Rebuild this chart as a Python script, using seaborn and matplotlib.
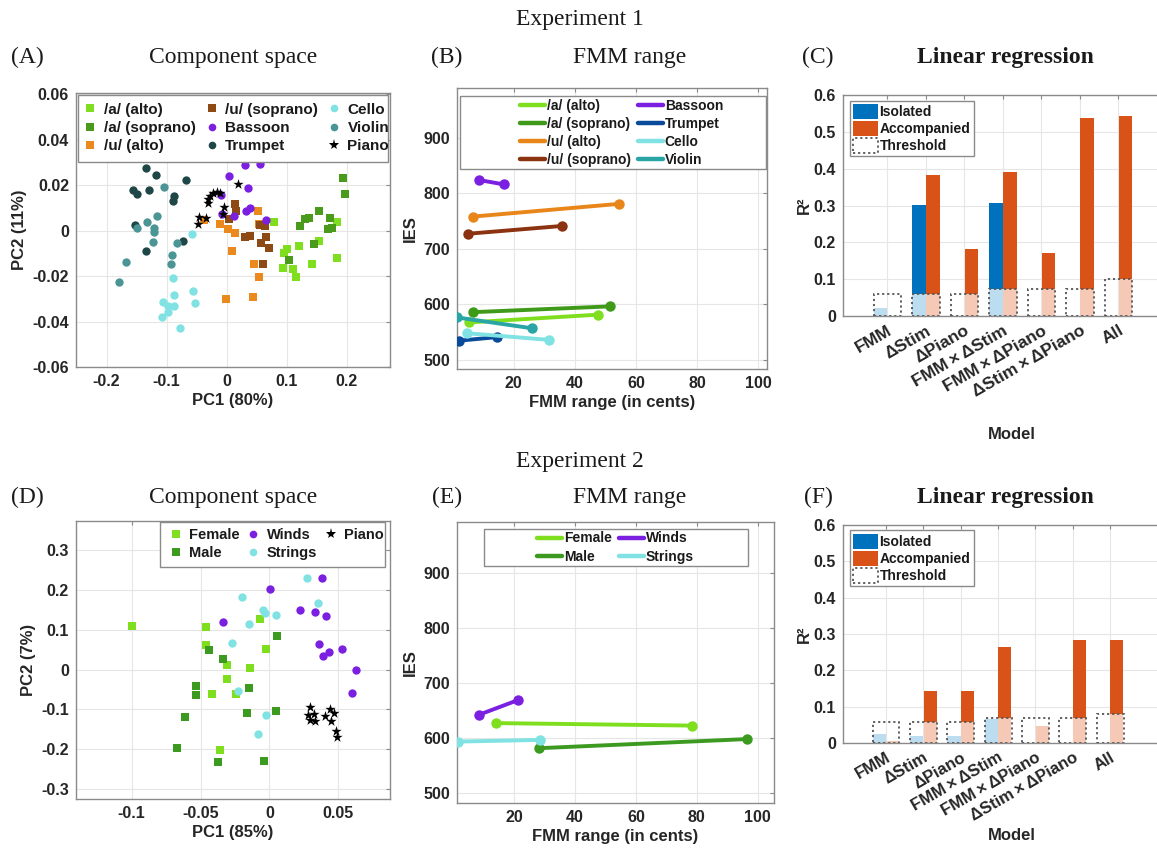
import numpy as np
import pandas as pd
import matplotlib
matplotlib.use("Agg")
import matplotlib.pyplot as plt
from matplotlib.lines import Line2D
from matplotlib.patches import Patch, Rectangle
import seaborn as sns

# ---------------- Experiment 1: component space (PC1, PC2) ----------------
exp1_a_alto = [(0.078, 0.0037), (0.101, -0.0079), (0.096, -0.0098), (0.094, -0.0165),
               (0.110, -0.0168), (0.116, -0.0202), (0.121, -0.0067), (0.153, -0.0045),
               (0.183, 0.0038), (0.183, -0.0119), (0.142, -0.0149)]
exp1_a_soprano = [(0.194, 0.0233), (0.197, 0.0162), (0.172, 0.0056), (0.153, 0.0088),
                  (0.137, 0.0057), (0.131, 0.0053), (0.122, 0.0018), (0.146, -0.0059),
                  (0.104, -0.0129), (0.169, 0.0007), (0.176, 0.0012)]
exp1_u_alto = [(0.052, 0.0088), (-0.011, 0.0029), (0.003, 0.0007), (0.014, -0.0010),
               (0.009, -0.0088), (0.053, 0.0031), (0.046, -0.0148), (0.054, -0.0206),
               (-0.001, -0.0299), (0.044, -0.0291), (-0.038, 0.0047)]
exp1_u_soprano = [(0.014, 0.0116), (0.015, 0.0085), (0.004, 0.0053), (0.031, -0.0029),
                  (0.039, -0.0023), (0.057, -0.0053), (0.066, -0.0029), (0.070, -0.0075),
                  (0.061, -0.0148), (0.064, 0.0019), (0.056, 0.0026)]
exp1_bassoon = [(0.031, 0.0290), (0.056, 0.0294), (0.004, 0.0241), (0.036, 0.0189),
                (-0.009, 0.0155), (0.032, 0.0088), (0.039, 0.0100), (0.012, 0.0063),
                (-0.007, 0.0072), (0.065, 0.0047)]
exp1_trumpet = [(-0.135, 0.0275), (-0.117, 0.0244), (-0.068, 0.0224), (-0.156, 0.0179),
                (-0.150, 0.0160), (-0.129, 0.0179), (-0.088, 0.0151), (-0.090, 0.0129),
                (-0.153, 0.0026), (-0.073, -0.0045), (-0.134, -0.0089)]
exp1_cello = [(-0.057, -0.0016), (-0.089, -0.0209), (-0.087, -0.0285), (-0.056, -0.0266),
              (-0.052, -0.0319), (-0.106, -0.0312), (-0.097, -0.0332), (-0.087, -0.0332),
              (-0.098, -0.0360), (-0.107, -0.0381), (-0.078, -0.0429)]
exp1_violin = [(-0.104, 0.0193), (-0.116, 0.0064), (-0.133, 0.0037), (-0.121, 0.0010),
               (-0.121, -0.0007), (-0.150, 0.0012), (-0.122, -0.0050), (-0.082, -0.0054),
               (-0.091, -0.0108), (-0.093, -0.0145), (-0.168, -0.0139), (-0.179, -0.0225)]
exp1_piano = [(0.019, 0.0205), (-0.022, 0.0167), (-0.016, 0.0171), (-0.011, 0.0164),
              (-0.028, 0.0152), (-0.031, 0.0138), (-0.031, 0.0123), (-0.046, 0.0059),
              (-0.035, 0.0054), (-0.047, 0.0029), (-0.004, 0.0102), (-0.006, 0.0073)]

exp1_groups = ["/a/ (alto)", "/a/ (soprano)", "/u/ (alto)", "/u/ (soprano)",
               "Bassoon", "Trumpet", "Cello", "Violin", "Piano"]

# ---------------- Experiment 1: FMM range vs IES (low, high) ----------------
exp1_line_groups = ["/a/ (alto)", "/a/ (soprano)", "/u/ (alto)", "/u/ (soprano)",
                    "Bassoon", "Trumpet", "Cello", "Violin"]
exp1_fmm = [(5.3, 47.5), (6.6, 51.6), (6.7, 54.6), (5.0, 35.7),
            (8.6, 16.9), (2.0, 14.5), (4.9, 31.7), (1.5, 26.0)]
exp1_ies = [(567, 581), (585.5, 596), (758, 781), (727, 741),
            (824, 816), (534, 540.5), (547.5, 535.5), (576, 556.5)]

# ---------------- Experiment 1: linear regression ----------------
models = ["FMM", "ΔStim", "ΔPiano", "FMM\u2009×\u2009ΔStim", "FMM\u2009×\u2009ΔPiano",
          "ΔStim\u2009×\u2009ΔPiano", "All"]
exp1_r2_isolated = [0.022, 0.301, 0.0, 0.307, 0.0, 0.0, 0.0]
exp1_r2_accompanied = [0.0, 0.383, 0.181, 0.391, 0.170, 0.537, 0.544]
exp1_r2_threshold = [0.061, 0.061, 0.061, 0.073, 0.073, 0.073, 0.100]

# ---------------- Experiment 2: component space ----------------
exp2_female = [(-0.100, 0.109), (-0.046, 0.106), (-0.046, 0.062), (-0.0065, 0.128),
               (-0.0024, 0.052), (-0.031, 0.012), (-0.014, 0.003), (-0.031, -0.023),
               (-0.042, -0.061), (-0.024, -0.061), (-0.036, -0.203)]
exp2_male = [(0.0053, 0.085), (-0.044, 0.049), (-0.034, 0.027), (-0.053, -0.041),
             (-0.053, -0.063), (-0.061, -0.118), (-0.067, -0.198), (-0.0145, -0.046),
             (-0.016, -0.108), (0.0048, -0.105), (-0.0375, -0.232), (-0.0036, -0.229)]
exp2_winds = [(0.038, 0.231), (0.0002, 0.203), (0.022, 0.150), (0.033, 0.145),
              (0.041, 0.135), (-0.034, 0.119), (0.036, 0.064), (0.043, 0.045),
              (0.039, 0.034), (0.0525, 0.052), (0.063, -0.001), (0.060, -0.058)]
exp2_strings = [(0.027, 0.231), (-0.020, 0.183), (0.035, 0.167), (-0.0044, 0.150),
                (-0.003, 0.143), (0.0048, 0.136), (-0.0145, 0.114), (-0.027, 0.067),
                (-0.023, -0.053), (-0.0027, -0.114), (-0.0085, -0.161)]
exp2_piano = [(0.0295, -0.094), (0.028, -0.114), (0.032, -0.111), (0.0295, -0.126),
              (0.033, -0.130), (0.040, -0.116), (0.044, -0.099), (0.047, -0.109),
              (0.045, -0.130), (0.048, -0.154), (0.049, -0.170)]
exp2_groups = ["Female", "Male", "Winds", "Strings", "Piano"]

# ---------------- Experiment 2: FMM range vs IES ----------------
exp2_line_groups = ["Female", "Male", "Winds", "Strings"]
exp2_fmm = [(14.0, 78.5), (28.3, 96.4), (8.4, 21.4), (1.6, 28.4)]
exp2_ies = [(627, 622.5), (581.5, 598), (642, 669), (593.5, 596.5)]

# ---------------- Experiment 2: linear regression ----------------
exp2_r2_isolated = [0.025, 0.020, 0.018, 0.065, 0.0, 0.0, 0.0]
exp2_r2_accompanied = [0.005, 0.144, 0.144, 0.264, 0.046, 0.284, 0.284]
exp2_r2_threshold = [0.058, 0.058, 0.058, 0.069, 0.069, 0.069, 0.081]

# ---------------- ticks ----------------
pcA_xticks = [-0.2, -0.1, 0, 0.1, 0.2]
pcA_yticks = [-0.06, -0.04, -0.02, 0, 0.02, 0.04, 0.06]
pcD_xticks = [-0.1, -0.05, 0, 0.05]
pcD_yticks = [-0.3, -0.2, -0.1, 0, 0.1, 0.2, 0.3]
fmm_xticks = [20, 40, 60, 80, 100]
ies_yticks = [500, 600, 700, 800, 900]
r2_yticks = [0, 0.1, 0.2, 0.3, 0.4, 0.5, 0.6]

# ---------------- styling ----------------
sns.set_theme(style="whitegrid")
plt.rcParams["font.family"] = ["Liberation Sans", "DejaVu Sans"]
plt.rcParams["font.weight"] = "bold"
plt.rcParams["axes.labelweight"] = "bold"

LIME = "#7fdf1f"
GREEN = "#4a9a1c"
ORANGE = "#ea8a1e"
BROWN = "#8e4a14"
PURPLE = "#7b1fe0"
CYAN = "#80e2e2"
ISO, ISO_L = "#0072bd", "#bcdcf0"
ACC, ACC_L = "#d95319", "#f5c9b6"
FRAME = "#8a8a8a"

palette_A = {"/a/ (alto)": LIME, "/a/ (soprano)": GREEN, "/u/ (alto)": ORANGE,
             "/u/ (soprano)": BROWN, "Bassoon": PURPLE, "Trumpet": "#1f4747",
             "Cello": CYAN, "Violin": "#4b9595", "Piano": "black"}
markers_A = {"/a/ (alto)": "s", "/a/ (soprano)": "s", "/u/ (alto)": "s", "/u/ (soprano)": "s",
             "Bassoon": "o", "Trumpet": "o", "Cello": "o", "Violin": "o", "Piano": "*"}
palette_B = {"/a/ (alto)": LIME, "/a/ (soprano)": "#3f9a1a", "/u/ (alto)": "#e8861a",
             "/u/ (soprano)": "#8b3210", "Bassoon": PURPLE, "Trumpet": "#0a4a9a",
             "Cello": CYAN, "Violin": "#2aa5a5"}
palette_D = {"Female": LIME, "Male": "#3c9a20", "Winds": PURPLE, "Strings": CYAN, "Piano": "black"}
markers_D = {"Female": "s", "Male": "s", "Winds": "o", "Strings": "o", "Piano": "*"}

W, H = 1157, 848
fig = plt.figure(figsize=(W / 100, H / 100), dpi=100)
fig.patch.set_facecolor("white")


def panel(left, top, right, bottom):
    return fig.add_axes([left / W, 1 - bottom / H, (right - left) / W, (bottom - top) / H])


def style_axes(ax, labelsize=11.5):
    ax.set_facecolor("white")
    ax.grid(True, color="#e6e6e6", linewidth=0.8)
    ax.set_axisbelow(True)
    for sp in ax.spines.values():
        sp.set_visible(True)
        sp.set_color(FRAME)
        sp.set_linewidth(1.0)
    ax.tick_params(direction="in", length=3, width=0.8, color=FRAME,
                   top=True, right=True, labelsize=labelsize, pad=5,
                   labelcolor="#262626")


def fmt(v):
    return "0" if v == 0 else f"{v:g}"


def scatter_frame(groups, arrays):
    rows = []
    for g, pts in zip(groups, arrays):
        for x, y in pts:
            rows.append({"group": g, "pc1": x, "pc2": y})
    return pd.DataFrame(rows)


def line_frame(groups, fmm, ies):
    rows = []
    for g, xs, ys in zip(groups, fmm, ies):
        for x, y in zip(xs, ys):
            rows.append({"group": g, "fmm": x, "ies": y})
    return pd.DataFrame(rows)


def boxed_legend(ax, handles, labels, box, center, ncol, **kw):
    """Legend without its own frame, centred inside a wider outlined box."""
    x0, y0, x1, y1 = box
    ax.add_patch(Rectangle((x0, y0), x1 - x0, y1 - y0, transform=ax.transAxes,
                           facecolor="white", edgecolor=FRAME, linewidth=1.0, zorder=4))
    leg = ax.legend(handles, labels, ncol=ncol, loc="center", bbox_to_anchor=center,
                    frameon=False, borderaxespad=0, borderpad=0, **kw)
    leg.set_zorder(5)
    for t in leg.get_texts():
        t.set_fontweight("bold")
        t.set_color("#1a1a1a")
    return leg


def component_panel(ax, df, groups, palette, markers, xlim, ylim, xticks, yticks,
                    xlabel, ylabel, ncol, box, center, colspace, legsize):
    for g in groups:
        sub = df[df["group"] == g]
        sns.scatterplot(data=sub, x="pc1", y="pc2", color=palette[g], marker=markers[g],
                        s=(60 if markers[g] == "*" else 36), linewidth=0, ax=ax,
                        legend=False, zorder=3)
    ax.set_xlim(*xlim)
    ax.set_ylim(*ylim)
    ax.set_xticks(xticks, [fmt(v) for v in xticks])
    ax.set_yticks(yticks, [fmt(v) for v in yticks])
    ax.set_xlabel(xlabel, fontsize=12, labelpad=3)
    ax.set_ylabel(ylabel, fontsize=12, labelpad=4)
    handles = [Line2D([], [], linestyle="none", marker=markers[g], color=palette[g],
                      markersize=(8 if markers[g] == "*" else 5.5), markeredgewidth=0)
               for g in groups]
    boxed_legend(ax, handles, groups, box, center, ncol, fontsize=legsize,
                 handletextpad=0.3, columnspacing=colspace, labelspacing=0.28,
                 handlelength=1.2)


def fmm_panel(ax, df, groups, palette, xlim, ylim, box, center):
    sns.lineplot(data=df, x="fmm", y="ies", hue="group", hue_order=groups, palette=palette,
                 units="group", estimator=None, sort=False, marker="o", markersize=7.5,
                 markeredgewidth=0, linewidth=2.8, legend=False, ax=ax, zorder=3)
    ax.set_xlim(*xlim)
    ax.set_ylim(*ylim)
    ax.set_xticks(fmm_xticks, [str(v) for v in fmm_xticks])
    ax.set_yticks(ies_yticks, [str(v) for v in ies_yticks])
    ax.set_xlabel("FMM range (in cents)", fontsize=12, labelpad=3)
    ax.set_ylabel("IES", fontsize=12, labelpad=4)
    handles = [Line2D([], [], color=palette[g], linewidth=3.2) for g in groups]
    boxed_legend(ax, handles, groups, box, center, 2, fontsize=10,
                 handletextpad=0.15, columnspacing=0.5, labelspacing=0.3,
                 handlelength=1.8)


def regression_panel(ax, iso, acc, thr, xlim, label_size, model_pad):
    x = np.arange(len(models))
    thr = np.asarray(thr)
    for vals, off, dark, light in [(iso, -0.18, ISO, ISO_L), (acc, 0.18, ACC, ACC_L)]:
        vals = np.asarray(vals)
        low = np.minimum(vals, thr)
        high = np.clip(vals - thr, 0, None)
        ax.bar(x + off, low, width=0.35, color=light, linewidth=0, zorder=2)
        ax.bar(x + off, high, bottom=thr, width=0.35, color=dark, linewidth=0, zorder=2)
    ax.bar(x, thr, width=0.72, fill=False, edgecolor="#555555", linestyle=(0, (1.2, 1.6)),
           linewidth=1.3, zorder=3)
    ax.set_xlim(*xlim)
    ax.set_ylim(0, 0.6)
    ax.set_xticks(x)
    ax.set_xticklabels(models, rotation=30, ha="right", rotation_mode="anchor",
                       fontsize=label_size)
    ax.set_yticks(r2_yticks, [fmt(v) for v in r2_yticks])
    ax.set_xlabel("Model", fontsize=12, labelpad=model_pad)
    ax.set_ylabel("R²", fontsize=12, labelpad=1)
    handles = [Patch(facecolor=ISO, edgecolor="none"), Patch(facecolor=ACC, edgecolor="none"),
               Patch(facecolor="white", edgecolor="#555555", linestyle=(0, (1.2, 1.6)), linewidth=1.3)]
    leg = ax.legend(handles, ["Isolated", "Accompanied", "Threshold"], loc="upper left",
                    bbox_to_anchor=(0.02, 0.975), fontsize=10, frameon=True, framealpha=1,
                    fancybox=False, handletextpad=0.1, borderpad=0.25, labelspacing=0.12,
                    handlelength=1.8, handleheight=1.3, borderaxespad=0)
    frame = leg.get_frame()
    frame.set_edgecolor(FRAME)
    frame.set_boxstyle("square", pad=0)
    for t in leg.get_texts():
        t.set_fontweight("bold")
        t.set_color("#1a1a1a")


# ---------------- panels ----------------
axA = panel(76, 93, 390, 367)
style_axes(axA)
dfA = scatter_frame(exp1_groups, [exp1_a_alto, exp1_a_soprano, exp1_u_alto, exp1_u_soprano,
                                  exp1_bassoon, exp1_trumpet, exp1_cello, exp1_violin, exp1_piano])
component_panel(axA, dfA, exp1_groups, palette_A, markers_A, (-0.251, 0.272), (-0.06, 0.0605),
                pcA_xticks, pcA_yticks, "PC1 (80%)", "PC2 (11%)", 3,
                (0.006, 0.748, 0.994, 0.994), (0.507, 0.872), 0.42, 11)

axB = panel(457, 88, 767, 369)
style_axes(axB)
dfB = line_frame(exp1_line_groups, exp1_fmm, exp1_ies)
fmm_panel(axB, dfB, exp1_line_groups, palette_B, (1.47, 102.9), (483, 990),
          (0.01, 0.712, 0.997, 0.972), (0.53, 0.840))

axC = panel(843, 95, 1180, 316)
style_axes(axC)
regression_panel(axC, exp1_r2_isolated, exp1_r2_accompanied, exp1_r2_threshold,
                 (-1.155, 7.6), 12.5, 20)

axD = panel(76, 521, 390, 799)
style_axes(axD)
dfD = scatter_frame(exp2_groups, [exp2_female, exp2_male, exp2_winds, exp2_strings, exp2_piano])
component_panel(axD, dfD, exp2_groups, palette_D, markers_D, (-0.1404, 0.0875), (-0.325, 0.373),
                pcD_xticks, pcD_yticks, "PC1 (85%)", "PC2 (7%)", 3,
                (0.268, 0.835, 0.985, 0.997), (0.635, 0.916), 0.35, 10.5)

axE = panel(457, 522, 774, 803)
style_axes(axE)
dfE = line_frame(exp2_line_groups, exp2_fmm, exp2_ies)
fmm_panel(axE, dfE, exp2_line_groups, palette_D, (1.25, 105.4), (482, 992),
          (0.085, 0.843, 0.918, 0.975), (0.5, 0.909))

axF = panel(843, 525, 1180, 743)
style_axes(axF)
regression_panel(axF, exp2_r2_isolated, exp2_r2_accompanied, exp2_r2_threshold,
                 (-1.15, 7.87), 12, 3)

# ---------------- titles ----------------
serif = ["Liberation Serif", "DejaVu Serif"]


def fig_text(x, y, s, size, weight="normal"):
    fig.text(x / W, 1 - y / H, s, ha="center", va="center", fontsize=size,
             family=serif, fontweight=weight, color="#1a1a1a")


fig_text(580, 19, "Experiment 1", 17)
fig_text(580, 462, "Experiment 2", 17)
for ytitle, labels in [(57, ["(A)", "(B)", "(C)"]), (497, ["(D)", "(E)", "(F)"])]:
    fig_text(27, ytitle, labels[0], 17)
    fig_text(233, ytitle, "Component space", 17)
    fig_text(447, ytitle, labels[1], 17)
    fig_text(630, ytitle, "FMM range", 17)
    fig_text(818, ytitle, labels[2], 17)
    fig_text(1005, ytitle, "Linear regression", 17, weight="bold")

fig.savefig("out.png", dpi=100, facecolor="white")
